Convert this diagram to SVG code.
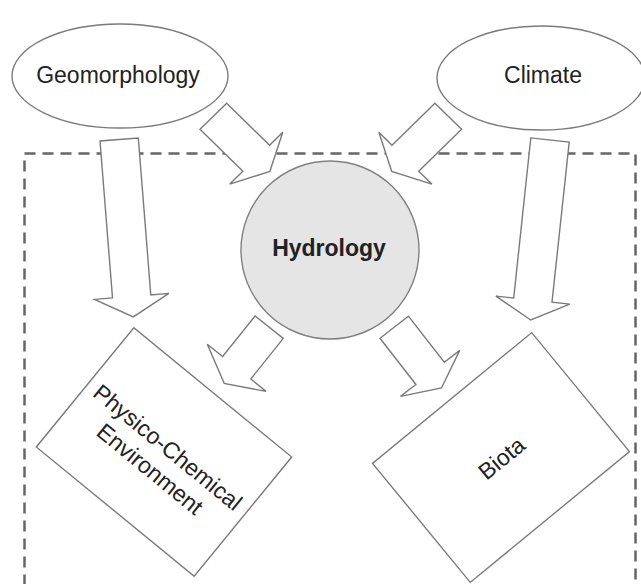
<svg xmlns="http://www.w3.org/2000/svg" width="641" height="584" viewBox="0 0 641 584">
<style>
.shape{fill:#fff;stroke:#7a7a7a;stroke-width:1.4}
.arrow{fill:#fff;stroke:#7a7a7a;stroke-width:1.4;stroke-linejoin:miter}
.lbl{font-family:"Liberation Sans",Arial,sans-serif;font-size:23px;fill:#222;text-anchor:middle}
.bold{font-weight:bold}
.frame{fill:none;stroke:#666;stroke-width:2.5;stroke-dasharray:11 7}
</style>
<rect width="641" height="584" fill="#fff"/>
<rect id="boundary" class="frame" x="24.5" y="153.5" width="611" height="460"/>
<g id="connectors">
<polygon id="geo-to-phys" class="arrow" points="138.3,138 150.8,294.9 168.9,293.4 133.3,316.9 94.5,299.4 112.5,297.9 100,141"/>
<polygon id="geo-to-hydro" class="arrow" points="226.7,103.3 269.6,145.2 282.75,132.3 269.85,171.5 229.75,184.1 242.9,171.2 200,129.3"/>
<polygon id="clim-to-hydro" class="arrow" points="434.9,103.3 392,145.2 378.85,132.3 391.75,171.5 431.85,184.1 418.7,171.2 461.6,129.3"/>
<polygon id="clim-to-biota" class="arrow" points="569.2,142.1 552,302.2 569.8,304.1 530.7,320 495.9,296.1 513.7,298 530.8,137.9"/>
<polygon id="hydro-to-phys" class="arrow" points="283.3,338.4 250.8,379 266.1,391.4 224.2,383.4 207.3,344.2 222.6,356.5 255.1,316"/>
<polygon id="hydro-to-biota" class="arrow" points="408.4,316.15 444.3,362.3 459.7,350.4 441.5,388 400.5,396.4 415.9,384.5 380,338.25"/>
</g>
<g id="geomorphology">
<ellipse class="shape" cx="120" cy="76" rx="108" ry="52"/>
<text class="lbl" x="118" y="83">Geomorphology</text>
</g>
<g id="climate">
<ellipse class="shape" cx="541" cy="78" rx="104" ry="52"/>
<text class="lbl" x="543" y="83">Climate</text>
</g>
<g id="hydrology">
<circle cx="330" cy="250" r="89" fill="#e5e5e5" stroke="#808080" stroke-width="1.4"/>
<text class="lbl bold" x="329" y="256">Hydrology</text>
</g>
<g id="physico-chemical" transform="translate(164 452) rotate(39.3)">
<rect class="shape" x="-102" y="-77" width="204" height="154"/>
<text class="lbl" x="0" y="2">Physico-Chemical</text>
<text class="lbl" x="0" y="30">Environment</text>
</g>
<g id="biota" transform="translate(501 457.5) rotate(-39.4)">
<rect class="shape" x="-103" y="-77" width="206" height="154"/>
<text class="lbl" x="0" y="9">Biota</text>
</g>
</svg>
